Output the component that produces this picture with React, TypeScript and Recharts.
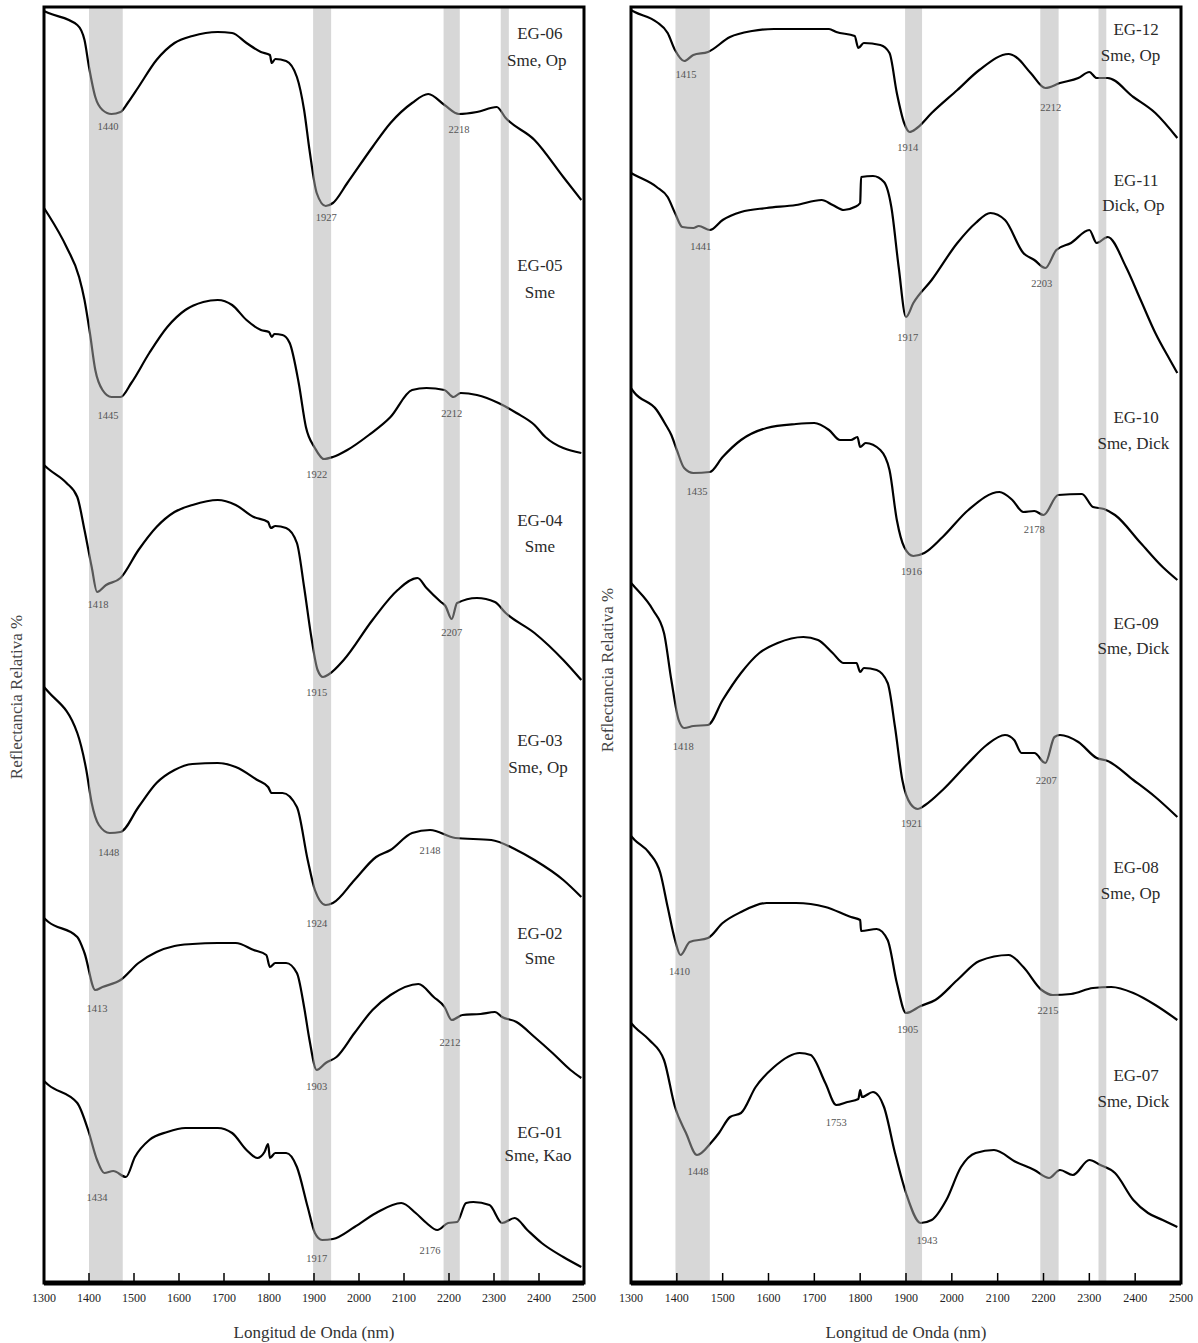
import React from 'react';
import { LineChart, Line, XAxis, YAxis, ReferenceArea, ReferenceDot, ReferenceLine } from 'recharts';

const SERIF = '"Liberation Serif", "Times New Roman", serif';

const WAVE_TICKS = [1300, 1400, 1500, 1600, 1700, 1800, 1900, 2000, 2100, 2200, 2300, 2400, 2500];

// shaded absorption windows (nm)
const BANDS_LEFT = [[1400, 1475], [1898, 1938], [2188, 2224], [2315, 2333]];
const BANDS_RIGHT = [[1397, 1472], [1898, 1935], [2193, 2233], [2320, 2337]];

// spectra: [wavelength nm, stacked relative reflectance]
const EG06 = [[1300, 1272], [1310, 1270], [1374, 1258], [1390, 1243], [1400, 1216], [1414, 1186], [1430, 1173], [1450, 1169], [1470, 1171], [1486, 1180], [1510, 1196], [1550, 1223], [1590, 1240], [1630, 1247], [1686, 1251], [1718, 1250], [1750, 1240], [1782, 1231], [1802, 1228], [1806, 1220], [1814, 1224], [1838, 1222], [1862, 1206], [1878, 1173], [1890, 1133], [1906, 1090], [1926, 1077], [1942, 1080], [1974, 1100], [2030, 1136], [2070, 1160], [2118, 1180], [2154, 1189], [2190, 1178], [2222, 1169], [2262, 1171], [2306, 1176], [2326, 1165], [2390, 1143], [2454, 1106], [2494, 1083]];
const EG05 = [[1300, 1075], [1310, 1068], [1350, 1036], [1378, 1006], [1390, 983], [1402, 950], [1414, 913], [1430, 893], [1450, 886], [1470, 886], [1494, 900], [1534, 930], [1574, 956], [1614, 973], [1654, 981], [1686, 983], [1718, 978], [1750, 963], [1782, 953], [1800, 951], [1806, 946], [1812, 949], [1830, 948], [1846, 940], [1866, 900], [1882, 856], [1902, 835], [1922, 824], [1942, 826], [1974, 833], [2022, 848], [2070, 866], [2118, 893], [2150, 895], [2190, 893], [2210, 886], [2226, 890], [2262, 888], [2310, 880], [2350, 870], [2390, 858], [2414, 846], [2494, 830]];
const EG04 = [[1300, 818], [1310, 814], [1350, 800], [1374, 786], [1390, 753], [1406, 716], [1418, 691], [1438, 698], [1470, 705], [1510, 733], [1550, 756], [1590, 771], [1630, 778], [1686, 783], [1726, 778], [1766, 766], [1798, 761], [1804, 755], [1814, 757], [1838, 755], [1862, 740], [1878, 696], [1894, 646], [1908, 613], [1920, 606], [1934, 609], [1966, 623], [2030, 663], [2086, 693], [2130, 705], [2150, 695], [2182, 681], [2192, 677], [2206, 664], [2218, 680], [2262, 685], [2302, 681], [2326, 670], [2390, 650], [2454, 623], [2494, 603]];
const EG03 = [[1300, 596], [1310, 591], [1374, 550], [1394, 513], [1406, 480], [1422, 458], [1446, 450], [1470, 451], [1510, 476], [1550, 500], [1590, 513], [1630, 519], [1686, 520], [1726, 516], [1774, 503], [1798, 496], [1806, 490], [1830, 490], [1862, 476], [1886, 423], [1902, 393], [1926, 378], [1942, 380], [1990, 403], [2038, 426], [2070, 433], [2118, 450], [2158, 453], [2214, 445], [2294, 443], [2350, 433], [2390, 423], [2454, 403], [2494, 386]];
const EG02 = [[1300, 365], [1310, 361], [1374, 346], [1390, 330], [1414, 293], [1430, 296], [1470, 303], [1510, 320], [1550, 331], [1590, 337], [1630, 339], [1686, 340], [1726, 340], [1766, 333], [1794, 328], [1802, 316], [1814, 320], [1838, 320], [1862, 310], [1878, 276], [1890, 243], [1906, 213], [1926, 220], [1950, 226], [1990, 250], [2030, 273], [2070, 288], [2132, 299], [2166, 286], [2190, 276], [2206, 263], [2230, 268], [2270, 269], [2302, 271], [2318, 266], [2350, 261], [2390, 246], [2430, 230], [2470, 213], [2494, 205]];
const EG01 = [[1300, 202], [1310, 198], [1374, 180], [1398, 153], [1418, 123], [1434, 110], [1454, 112], [1482, 106], [1502, 126], [1534, 143], [1574, 151], [1614, 155], [1686, 155], [1718, 150], [1750, 133], [1774, 125], [1790, 131], [1798, 139], [1802, 125], [1814, 130], [1838, 130], [1862, 116], [1886, 76], [1902, 50], [1918, 43], [1942, 44], [1990, 56], [2038, 70], [2094, 80], [2126, 70], [2150, 60], [2174, 53], [2198, 60], [2218, 61], [2238, 80], [2254, 81], [2290, 78], [2318, 60], [2346, 65], [2374, 53], [2406, 40], [2454, 26], [2494, 16]];

const EG12 = [[1300, 1273], [1308, 1271], [1356, 1261], [1380, 1250], [1396, 1233], [1416, 1222], [1436, 1228], [1468, 1231], [1516, 1246], [1564, 1252], [1612, 1254], [1676, 1254], [1732, 1254], [1748, 1251], [1788, 1247], [1796, 1235], [1808, 1240], [1844, 1238], [1864, 1230], [1880, 1190], [1896, 1160], [1908, 1151], [1924, 1155], [1956, 1170], [2012, 1193], [2060, 1213], [2124, 1229], [2140, 1226], [2172, 1210], [2204, 1195], [2236, 1200], [2276, 1205], [2300, 1211], [2316, 1205], [2340, 1205], [2396, 1186], [2444, 1170], [2492, 1145]];
const EG11 = [[1300, 1110], [1308, 1108], [1356, 1096], [1380, 1086], [1396, 1070], [1412, 1056], [1436, 1055], [1448, 1057], [1472, 1053], [1500, 1063], [1540, 1071], [1596, 1075], [1660, 1078], [1716, 1083], [1740, 1078], [1764, 1073], [1788, 1076], [1800, 1080], [1802, 1106], [1828, 1107], [1852, 1101], [1868, 1076], [1884, 1016], [1900, 966], [1916, 980], [1956, 1003], [2012, 1040], [2052, 1060], [2084, 1070], [2116, 1063], [2156, 1030], [2180, 1023], [2204, 1015], [2228, 1033], [2260, 1040], [2300, 1053], [2316, 1040], [2340, 1046], [2380, 1016], [2412, 983], [2444, 950], [2476, 923], [2492, 910]];
const EG10 = [[1300, 895], [1308, 890], [1356, 873], [1376, 858], [1388, 848], [1400, 833], [1416, 815], [1436, 810], [1472, 811], [1500, 826], [1540, 843], [1596, 855], [1660, 859], [1700, 860], [1732, 853], [1756, 843], [1780, 843], [1794, 846], [1800, 836], [1812, 840], [1844, 833], [1864, 813], [1880, 763], [1896, 736], [1916, 727], [1940, 730], [1980, 746], [2036, 773], [2104, 791], [2132, 783], [2156, 771], [2180, 772], [2200, 768], [2232, 788], [2284, 789], [2308, 776], [2332, 774], [2356, 768], [2412, 740], [2460, 716], [2492, 703]];
const EG09 = [[1300, 700], [1308, 696], [1348, 673], [1372, 650], [1388, 603], [1404, 563], [1416, 555], [1436, 557], [1468, 558], [1500, 583], [1540, 610], [1580, 630], [1620, 640], [1676, 646], [1708, 643], [1740, 630], [1764, 620], [1792, 620], [1800, 611], [1808, 615], [1836, 613], [1860, 600], [1876, 556], [1892, 503], [1910, 479], [1926, 474], [1942, 478], [1980, 493], [2036, 520], [2076, 538], [2116, 548], [2136, 543], [2152, 530], [2180, 530], [2204, 520], [2224, 546], [2236, 548], [2276, 541], [2316, 525], [2340, 522], [2396, 503], [2444, 486], [2492, 466]];
const EG08 = [[1300, 447], [1308, 443], [1340, 430], [1364, 410], [1380, 376], [1396, 343], [1408, 328], [1428, 341], [1468, 345], [1500, 360], [1540, 371], [1596, 380], [1660, 380], [1724, 376], [1780, 366], [1800, 363], [1802, 352], [1836, 354], [1860, 343], [1880, 300], [1900, 270], [1932, 277], [1964, 283], [2012, 303], [2060, 322], [2124, 328], [2156, 316], [2196, 293], [2220, 288], [2260, 289], [2308, 295], [2348, 296], [2396, 290], [2444, 278], [2492, 263]];
const EG07 = [[1300, 260], [1308, 256], [1340, 243], [1372, 223], [1396, 176], [1420, 150], [1444, 128], [1476, 141], [1492, 150], [1516, 166], [1540, 170], [1572, 196], [1612, 216], [1668, 230], [1692, 228], [1724, 200], [1748, 178], [1772, 181], [1796, 184], [1800, 193], [1804, 186], [1828, 191], [1852, 176], [1876, 130], [1900, 90], [1932, 60], [1956, 63], [1988, 83], [2020, 116], [2052, 130], [2092, 133], [2140, 121], [2180, 113], [2212, 105], [2236, 113], [2264, 108], [2300, 123], [2324, 118], [2356, 110], [2396, 83], [2428, 70], [2460, 63], [2492, 56]];

// absorption minimum labels: [nm, reflectance, text]
const MINS_LEFT = [
  [1442, 1157, '1440'], [1927, 1066, '1927'], [2222, 1154, '2218'],
  [1442, 868, '1445'], [1906, 809, '1922'], [2206, 870, '2212'],
  [1420, 679, '1418'], [1906, 591, '1915'], [2206, 651, '2207'],
  [1444, 431, '1448'], [1906, 360, '1924'], [2158, 433, '2148'],
  [1418, 275, '1413'], [1906, 197, '1903'], [2202, 241, '2212'],
  [1418, 86, '1434'], [1906, 25, '1917'], [2158, 33, '2176'],
];
const MINS_RIGHT = [
  [1420, 1209, '1415'], [1904, 1136, '1914'], [2216, 1176, '2212'],
  [1452, 1037, '1441'], [1904, 946, '1917'], [2196, 1000, '2203'],
  [1444, 792, '1435'], [1912, 712, '1916'], [2180, 754, '2178'],
  [1414, 537, '1418'], [1912, 460, '1921'], [2206, 503, '2207'],
  [1406, 312, '1410'], [1904, 254, '1905'], [2210, 273, '2215'],
  [1446, 112, '1448'], [1748, 161, '1753'], [1946, 43, '1943'],
];

// sample names and minerals: [nm, reflectance, text]
const NAMES_LEFT = [
  [2402, 1250, 'EG-06'], [2395, 1223, 'Sme, Op'],
  [2402, 1018, 'EG-05'], [2402, 991, 'Sme'],
  [2402, 763, 'EG-04'], [2402, 737, 'Sme'],
  [2402, 543, 'EG-03'], [2398, 516, 'Sme, Op'],
  [2402, 350, 'EG-02'], [2402, 325, 'Sme'],
  [2402, 151, 'EG-01'], [2398, 128, 'Sme, Kao'],
];
const NAMES_RIGHT = [
  [2402, 1254, 'EG-12'], [2390, 1228, 'Sme, Op'],
  [2402, 1103, 'EG-11'], [2396, 1078, 'Dick, Op'],
  [2402, 866, 'EG-10'], [2396, 840, 'Sme, Dick'],
  [2402, 660, 'EG-09'], [2396, 635, 'Sme, Dick'],
  [2402, 416, 'EG-08'], [2390, 390, 'Sme, Op'],
  [2402, 208, 'EG-07'], [2396, 182, 'Sme, Dick'],
];

const toRows = (pts) => pts.map(([nm, r]) => ({ nm, r }));

const Panel = ({ spectra, bands, mins, names, width, marginLeft, marginRight }) => (
  <LineChart
    width={width}
    height={1343}
    margin={{ top: 7, right: marginRight, bottom: 0, left: marginLeft }}
  >
    <XAxis
      type="number"
      dataKey="nm"
      domain={[1300, 2500]}
      ticks={WAVE_TICKS}
      interval={0}
      allowDataOverflow
      height={60}
      tickLine={false}
      tickSize={0}
      tickMargin={10}
      tick={{ fontSize: 12, fill: '#222', fontFamily: SERIF }}
      axisLine={{ stroke: '#000', strokeWidth: 5 }}
      label={{ value: 'Longitud de Onda (nm)', position: 'insideBottom', offset: 5, fontSize: 17, fill: '#333', fontFamily: SERIF }}
    />
    <YAxis type="number" domain={[0, 1276]} allowDataOverflow hide />
    {spectra.map((s, i) => (
      <Line
        key={`s-${i}`}
        data={toRows(s)}
        dataKey="r"
        type="monotone"
        stroke="#000"
        strokeWidth={2.2}
        dot={false}
        isAnimationActive={false}
      />
    ))}
    {bands.map(([a, b], i) => (
      <ReferenceArea key={`b-${i}`} x1={a} x2={b} y1={0} y2={1276} fill="#b0b0b0" fillOpacity={0.5} stroke="none" zIndex={450} />
    ))}
    {WAVE_TICKS.slice(1, -1).map((t) => (
      <ReferenceLine key={`t-${t}`} segment={[{ x: t, y: 0 }, { x: t, y: 10 }]} stroke="#000" strokeWidth={1.5} zIndex={600} />
    ))}
    <ReferenceArea x1={1300} x2={2500} y1={0} y2={1276} fill="none" stroke="#000" strokeWidth={3} zIndex={460} />
    {mins.map(([x, y, t], i) => (
      <ReferenceDot
        key={`m-${i}`}
        x={x}
        y={y}
        r={0}
        stroke="none"
        fill="none"
        label={{ value: t, position: 'center', fontSize: 10.5, fill: '#555', fontFamily: SERIF }}
      />
    ))}
    {names.map(([x, y, t], i) => (
      <ReferenceDot
        key={`n-${i}`}
        x={x}
        y={y}
        r={0}
        stroke="none"
        fill="none"
        label={{ value: t, position: 'center', fontSize: 17, fill: '#2a2a2a', fontFamily: SERIF }}
      />
    ))}
  </LineChart>
);

const yTitle = (left, top) => (
  <div
    style={{
      position: 'absolute',
      left,
      top,
      transform: 'translate(-50%, -50%) rotate(-90deg)',
      whiteSpace: 'nowrap',
      fontFamily: SERIF,
      fontSize: 17,
      color: '#444',
    }}
  >
    Reflectancia Relativa %
  </div>
);

export default function App() {
  return (
    <div style={{ position: 'absolute', left: 0, top: 0, width: 1198, height: 1343, background: '#fff', overflow: 'hidden' }}>
      <div style={{ position: 'absolute', left: 0, top: 0 }}>
        <Panel
          spectra={[EG06, EG05, EG04, EG03, EG02, EG01]}
          bands={BANDS_LEFT}
          mins={MINS_LEFT}
          names={NAMES_LEFT}
          width={600}
          marginLeft={44}
          marginRight={16}
        />
      </div>
      <div style={{ position: 'absolute', left: 600, top: 0 }}>
        <Panel
          spectra={[EG12, EG11, EG10, EG09, EG08, EG07]}
          bands={BANDS_RIGHT}
          mins={MINS_RIGHT}
          names={NAMES_RIGHT}
          width={598}
          marginLeft={31}
          marginRight={17}
        />
      </div>
      {yTitle(17, 697)}
      {yTitle(608, 670)}
    </div>
  );
}
